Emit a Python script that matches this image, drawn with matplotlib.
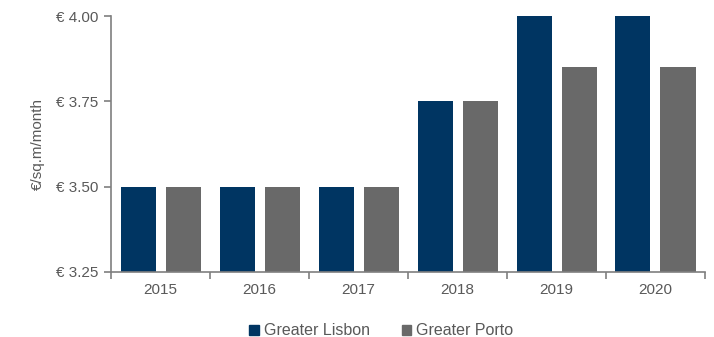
import matplotlib
matplotlib.use("Agg")
import matplotlib.pyplot as plt
import numpy as np
from matplotlib.patches import Patch

years = ["2015", "2016", "2017", "2018", "2019", "2020"]
lisbon = [3.50, 3.50, 3.50, 3.75, 4.00, 4.00]
porto = [3.50, 3.50, 3.50, 3.75, 3.85, 3.85]
yticks = [3.25, 3.50, 3.75, 4.00]

navy = "#003562"
grey = "#696969"
txt = "#595959"
spine = "#7f7f7f"

plt.rcParams['font.family'] = ['Liberation Sans', 'DejaVu Sans']
fig = plt.figure(figsize=(7.14, 3.37), dpi=100)
ax = fig.add_axes([0.1555, 0.193, 0.8315, 0.7595])

x = np.arange(len(years))
w = 0.354
ax.bar(x - 0.225, np.array(lisbon) - 3.25, w, bottom=3.25, color=navy, label="Greater Lisbon")
ax.bar(x + 0.23, np.array(porto) - 3.25, w, bottom=3.25, color=grey, label="Greater Porto")

ax.set_xlim(-0.5, len(years) - 0.5)
ax.set_ylim(3.25, 4.00)
ax.set_yticks(yticks)
ax.set_yticklabels([f"€ {v:.2f}" for v in yticks], color=txt, fontsize=11)
ax.set_xticks(x)
ax.set_xticklabels(years, color=txt, fontsize=11)
ax.tick_params(axis='x', which='major', length=0, pad=8)
ax.set_xticks(np.arange(-0.5, len(years), 1.0), minor=True)
ax.tick_params(axis='x', which='minor', length=5, color=spine, width=1.2)
ax.tick_params(axis='y', length=5, color=spine, width=1.2, pad=4)
for s in ['top', 'right']:
    ax.spines[s].set_visible(False)
for s in ['left', 'bottom']:
    ax.spines[s].set_color(spine)
    ax.spines[s].set_linewidth(1.2)
ax.set_ylabel("€/sq.m/month", color=txt, fontsize=11, labelpad=8)

handles = [Patch(color=navy, label="Greater Lisbon"), Patch(color=grey, label="Greater Porto")]
leg = fig.legend(handles=handles, loc='center', bbox_to_anchor=(0.534, 0.018), ncol=2, frameon=False,
                 fontsize=11.5, handlelength=0.6, handleheight=0.6, handletextpad=0.3, columnspacing=2.0)
for t in leg.get_texts():
    t.set_color(txt)

fig.savefig("out.png", dpi=100)
